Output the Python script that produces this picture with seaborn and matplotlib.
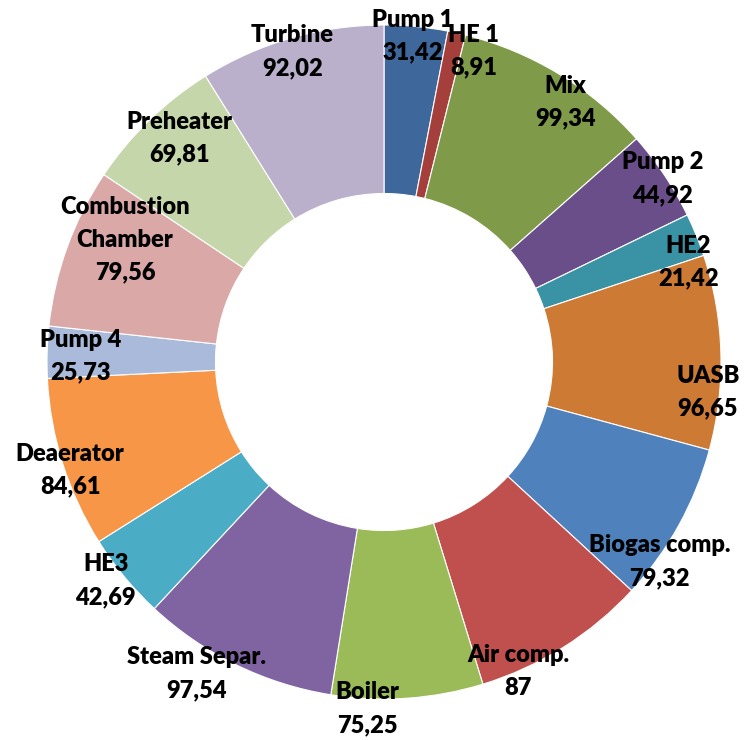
import numpy as np
import matplotlib
matplotlib.use("Agg")
import matplotlib.pyplot as plt
import seaborn as sns

# Component names and their values (clockwise from 12 o'clock)
components = ["Pump 1", "HE 1", "Mix", "Pump 2", "HE2", "UASB", "Biogas comp.",
              "Air comp.", "Boiler", "Steam Separ.", "HE3", "Deaerator", "Pump 4",
              "Combustion\nChamber", "Preheater", "Turbine"]
values = [31.42, 8.91, 99.34, 44.92, 21.42, 96.65, 79.32,
          87, 75.25, 97.54, 42.69, 84.61, 25.73,
          79.56, 69.81, 92.02]

# Slice colours
colors = ["#3E689C", "#A43F3C", "#7F9A48", "#6A4E8A", "#3A92A5", "#CD7A35",
          "#4F81BD", "#C0504D", "#9BBB59", "#8064A2", "#4BACC6", "#F79646",
          "#A9BADA", "#D9A8A7", "#C5D6AA", "#BAB0CB"]

# Label placement: radial distance (in outer radii) and angular nudge (degrees)
label_r = [0.97, 0.96, 0.94, 0.99, 0.95, 0.965, 1.01,
           1.00, 1.03, 1.08, 1.05, 0.985, 0.90,
           0.85, 0.90, 0.96]
label_nudge = [0.5, -3.6, -3.7, -0.3, -4.0, -7.0, -7.0,
               -8.7, -6.8, -5.0, -1.5, 1.5, 0.6,
               -5.3, -1.6, 0.5]

sns.set_style("white")
palette = sns.color_palette(colors)
plt.rcParams["font.family"] = ["Lato", "DejaVu Sans"]

W, H = 749, 740
fig = plt.figure(figsize=(W / 100, H / 100), dpi=100)
ax = fig.add_axes([0, 0, 1, 1])

wedges, _ = ax.pie(values, colors=palette, startangle=90, counterclock=False,
                   radius=1.0,
                   wedgeprops=dict(width=0.5, edgecolor="white", linewidth=0.8))

# Text labels: name and value with decimal comma
for w, name, v, r, dn in zip(wedges, components, values, label_r, label_nudge):
    mid = np.deg2rad((w.theta1 + w.theta2) / 2 + dn)
    txt = name + "\n" + f"{v:g}".replace(".", ",")
    ax.text(r * np.cos(mid), r * np.sin(mid), txt, ha="center", va="center",
            fontsize=17, fontweight="heavy", color="black", linespacing=1.6)

# Map data units to pixels: centre at (384, 362) px, outer radius 337 px
R, cx, cy = 337.0, 384.0, 362.0
ax.set_xlim(-cx / R, (W - cx) / R)
ax.set_ylim(-(H - cy) / R, cy / R)
ax.axis("off")

fig.savefig("out.png", dpi=100, facecolor="white")
